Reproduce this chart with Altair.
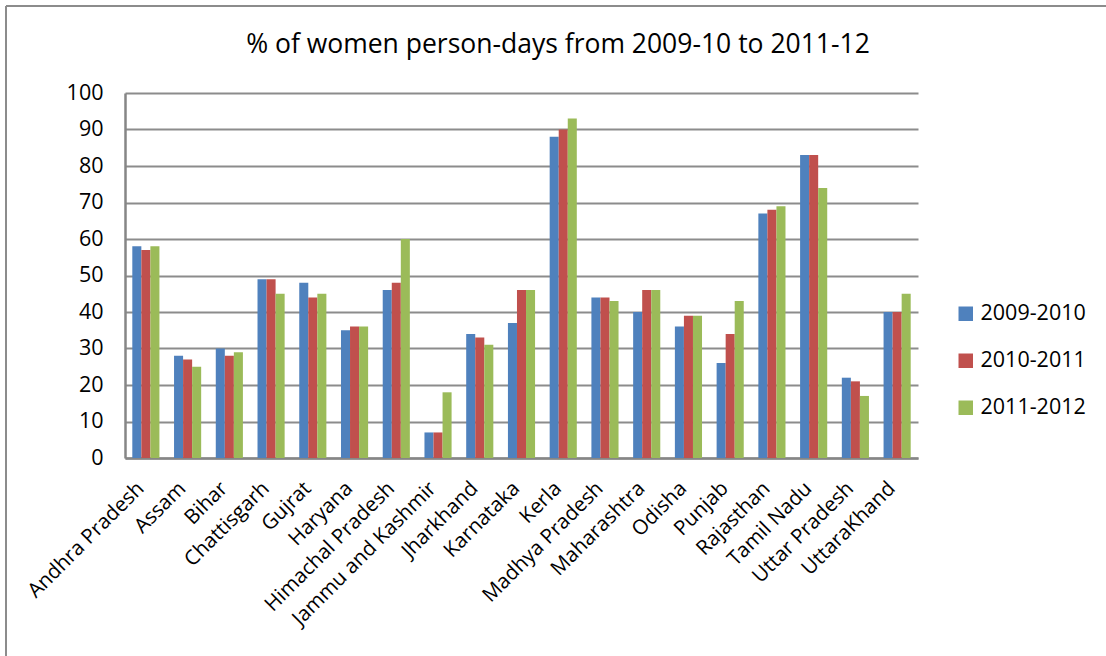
import altair as alt
import pandas as pd

states = ["Andhra Pradesh", "Assam", "Bihar", "Chattisgarh", "Gujrat", "Haryana",
          "Himachal Pradesh", "Jammu and Kashmir", "Jharkhand", "Karnataka", "Kerla",
          "Madhya Pradesh", "Maharashtra", "Odisha", "Punjab", "Rajasthan",
          "Tamil Nadu", "Uttar Pradesh", "UttaraKhand"]
series = ["2009-2010", "2010-2011", "2011-2012"]
v2009 = [58, 28, 30, 49, 48, 35, 46, 7, 34, 37, 88, 44, 40, 36, 26, 67, 83, 22, 40]
v2010 = [57, 27, 28, 49, 44, 36, 48, 7, 33, 46, 90, 44, 46, 39, 34, 68, 83, 21, 40]
v2011 = [58, 25, 29, 45, 45, 36, 60, 18, 31, 46, 93, 43, 46, 39, 43, 69, 74, 17, 45]
colors = ["#4F81BD", "#C0504D", "#9BBB59"]
title_text = "% of women person-days from 2009-10 to 2011-12"

rows = []
for s, vals in zip(series, [v2009, v2010, v2011]):
    for st, v in zip(states, vals):
        rows.append({"State": st, "Year": s, "Value": v})
df = pd.DataFrame(rows)

FONT = "Open Sans"

bars = alt.Chart(df).mark_bar().encode(
    x=alt.X("State:N", sort=states, title=None,
            scale=alt.Scale(paddingInner=0.35, paddingOuter=0.175),
            axis=alt.Axis(labelAngle=-45, labelAlign="right", labelBaseline="middle",
                          labelFontSize=20.5, labelFont=FONT, labelColor="#000000",
                          labelPadding=27, labelOffset=-5, ticks=False,
                          domainColor="#868686", domainWidth=2.5,
                          labelOverlap=False, labelLimit=300)),
    xOffset=alt.XOffset("Year:N", sort=series),
    y=alt.Y("Value:Q", title=None,
            scale=alt.Scale(domain=[0, 100], nice=False),
            axis=alt.Axis(values=list(range(0, 101, 10)), labelFontSize=21.5, labelFont=FONT,
                          labelColor="#000000", labelPadding=22, ticks=False,
                          domainColor="#868686", domainWidth=2.5,
                          gridColor="#8c8c8c", gridWidth=2)),
    color=alt.Color("Year:N", sort=series,
                    scale=alt.Scale(domain=series, range=colors),
                    legend=alt.Legend(title=None, orient="none", legendX=830, legendY=210,
                                      symbolType="square", symbolSize=210,
                                      symbolStrokeWidth=0, labelFontSize=21.5,
                                      labelFont=FONT, labelColor="#000000",
                                      rowPadding=24, labelOffset=4)),
)

one = pd.DataFrame({"t": [title_text]})
title = alt.Chart(one).mark_text(font=FONT, fontSize=26.5, color="#000000",
                                 align="center", baseline="middle").encode(
    text="t:N", x=alt.value(433), y=alt.value(-48))

border = alt.Chart(one).mark_rule(color="#8c8c8c", strokeWidth=2).encode(
    x=alt.value(-119), y=alt.value(-87), y2=alt.value(600))
border_top = alt.Chart(one).mark_rule(color="#8c8c8c", strokeWidth=2).encode(
    x=alt.value(-119), x2=alt.value(1000), y=alt.value(-87))

chart = alt.layer(bars, title, border, border_top).properties(
    width=793, height=365,
    autosize=alt.AutoSizeParams(type="none"),
    padding={"left": 125, "top": 93, "right": 188, "bottom": 198},
).configure_view(stroke=None)

chart.save("out.html", embed_options={"renderer": "svg", "actions": False})
